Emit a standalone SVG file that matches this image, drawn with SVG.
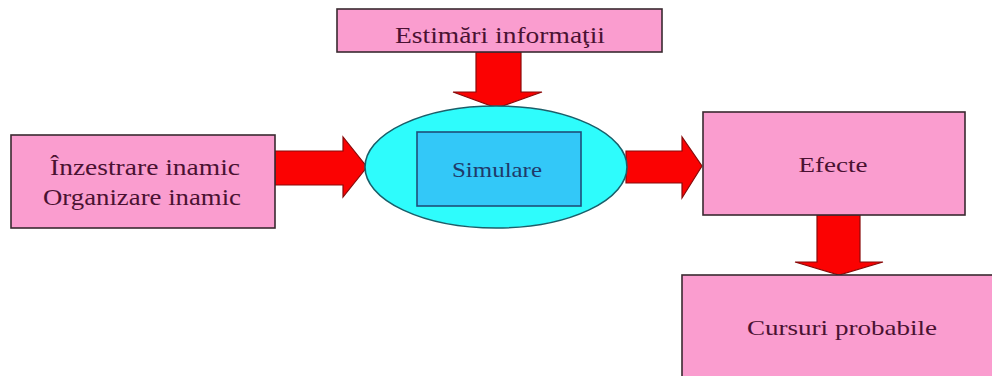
<svg xmlns="http://www.w3.org/2000/svg" width="992" height="376" viewBox="0 0 992 376">
<style>
.box{fill:#fa9dcf;stroke:#3a2a30;stroke-width:1.6}
.lbl{fill:#4a1232;text-anchor:middle;font-family:'Liberation Serif','DejaVu Serif','Times New Roman',Times,serif}
.sim{fill:#1f3a6a;text-anchor:middle;font-family:'Liberation Serif','DejaVu Serif','Times New Roman',Times,serif}
.arr{fill:#fb0202;stroke:#8a0a0a;stroke-width:1.2;stroke-linejoin:miter}
</style>
<rect width="992" height="376" fill="#ffffff"/>
<g id="connectors">
<polygon class="arr" points="476,52 521,52 521,92 542,92 497,108 453,92 476,92"/>
<polygon class="arr" points="275,151 343,151 343,137 367,167 343,197 343,185 275,185"/>
<polygon class="arr" points="626,151 682,151 682,137 702,166 682,198 682,183 626,183"/>
<polygon class="arr" points="817,215 860,215 860,262 883,262 839,275 795,262 817,262"/>
</g>
<g id="node-estimari">
<rect class="box" x="337" y="9" width="325" height="43"/>
<text class="lbl" x="500" y="43" font-size="23" textLength="210" lengthAdjust="spacingAndGlyphs">Estimări  informaţii</text>
</g>
<g id="node-inzestrare">
<rect class="box" x="11" y="135" width="264" height="93"/>
<text class="lbl" x="145" y="175" font-size="23" textLength="190" lengthAdjust="spacingAndGlyphs">Înzestrare inamic</text>
<text class="lbl" x="142" y="205" font-size="23" textLength="198" lengthAdjust="spacingAndGlyphs">Organizare  inamic</text>
</g>
<g id="node-simulare">
<ellipse cx="496" cy="167" rx="131" ry="61" fill="#2efcfc" stroke="#1a5f6a" stroke-width="1.6"/>
<rect x="417" y="132" width="164" height="74" fill="#33c8f8" stroke="#1d4f7a" stroke-width="1.6"/>
<text class="sim" x="497" y="177" font-size="21" textLength="90" lengthAdjust="spacingAndGlyphs">Simulare</text>
</g>
<g id="node-efecte">
<rect class="box" x="703" y="112" width="262" height="103"/>
<text class="lbl" x="833" y="172" font-size="22" textLength="69" lengthAdjust="spacingAndGlyphs">Efecte</text>
</g>
<g id="node-cursuri">
<rect class="box" x="682" y="275" width="320" height="120"/>
<text class="lbl" x="842" y="335" font-size="22" textLength="190" lengthAdjust="spacingAndGlyphs">Cursuri probabile</text>
</g>
</svg>
